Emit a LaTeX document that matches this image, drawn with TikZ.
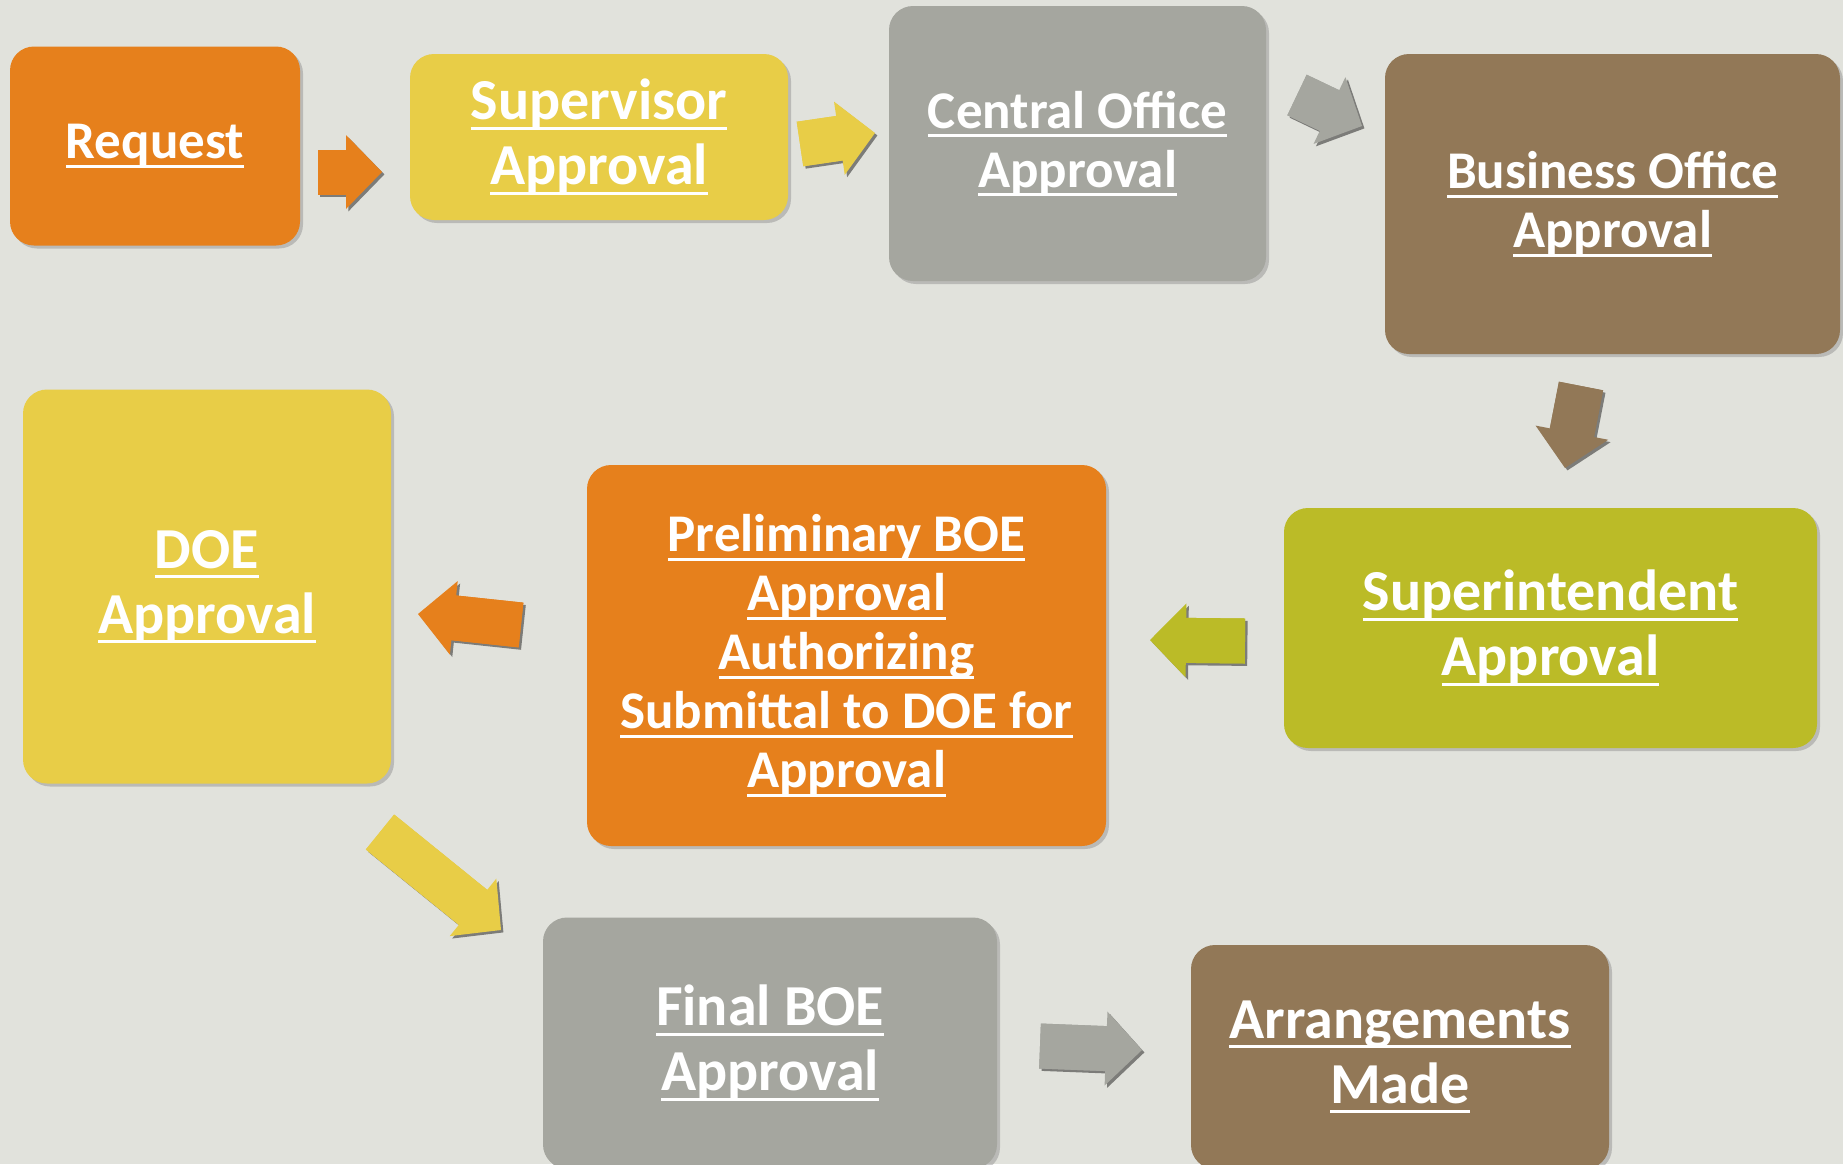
\documentclass[tikz,border=0pt]{standalone}
\usepackage{fontspec}
\setmainfont{Carlito}
\usetikzlibrary{arrows.meta}
\usetikzlibrary{shadows}

\definecolor{bgcol}{HTML}{E1E2DC}
\definecolor{boxorange}{HTML}{E6801C}
\definecolor{boxyellow}{HTML}{E8CD47}
\definecolor{boxgray}{HTML}{A5A69F}
\definecolor{boxbrown}{HTML}{927857}
\definecolor{boxolive}{HTML}{BBBB27}

% underlined line of a step label
\newlength{\uldepth}
\newcommand{\uln}[1]{\leavevmode\setbox0\hbox{#1}%
  \rlap{\rule[-\uldepth]{\wd0}{1.5pt}}\box0}

\begin{document}
\begin{tikzpicture}
[x=0.5pt,y=-0.5pt,%
  box/.style={rounded corners=12pt,fill=#1,text=white,align=center,inner sep=0pt,
    drop shadow={shadow xshift=1.5pt,shadow yshift=-1.5pt,opacity=0.4}},
  big/.style={font=\fontsize{29}{32.5}\selectfont\bfseries\setlength{\uldepth}{5pt}},
  small/.style={font=\fontsize{26.5}{29.5}\selectfont\bfseries\setlength{\uldepth}{4.5pt}},
  flow/.style={line width=22.5pt,-{Triangle[width=37pt,length=18pt,line width=0pt]},draw=#1},
  shaft/.style={line width=22.5pt,shorten >=14pt,draw=#1},
  flowshadow/.style={flow=bgcol!55!black,transform canvas={xshift=1.2pt,yshift=-1.2pt}}]
\useasboundingbox (0,0) rectangle (1843,1164);
\fill[bgcol] (0,0) rectangle (1843,1164);
\clip (0,0) rectangle (1843,1164);
%% ends of the block arrows
\coordinate (t1) at (318,172);   \coordinate (h1) at (382,172);
\coordinate (t2) at (800,144);   \coordinate (h2) at (875,133);
\coordinate (t3) at (1297,95);   \coordinate (h3) at (1362,126);
\coordinate (t4) at (1581,386);  \coordinate (h4) at (1565,468);
\coordinate (t5) at (1245,641);  \coordinate (h5) at (1150,640);
\coordinate (t6) at (521,625);   \coordinate (h6) at (418,614);
\coordinate (t7) at (380,832);   \coordinate (h7) at (501,930);
\coordinate (t8) at (1040,1046); \coordinate (h8) at (1142,1050);
\foreach \c/\t/\h in {boxorange/t1/h1,boxyellow/t2/h2,boxgray/t3/h3,boxbrown/t4/h4,
    boxolive/t5/h5,boxorange/t6/h6,boxyellow/t7/h7,boxgray/t8/h8}{
  \draw[flowshadow] (\t) -- (\h);
  \draw[flow=\c] (\t) -- (\h);
  \draw[shaft=\c] (\t) -- (\h);
}
%% steps
\node[box=boxorange,small,minimum width=145pt,minimum height=99.5pt] (req) at (155,146)
  {\uln{Request}};
\node[box=boxyellow,big,minimum width=189pt,minimum height=83pt] (sup) at (599,137)
  {\uln{Supervisor}\\\uln{Approval}};
\node[box=boxgray,small,minimum width=188.5pt,minimum height=137.5pt] (co) at (1077.5,143.5)
  {\uln{Central Office}\\\uln{Approval}};
\node[box=boxbrown,small,minimum width=227.5pt,minimum height=150pt] (bo) at (1612.5,204)
  {\uln{Business Office}\\\uln{Approval}};
\node[box=boxolive,big,minimum width=266.5pt,minimum height=120pt] (supt) at (1550.5,628)
  {\uln{Superintendent}\\\uln{Approval}};
\node[box=boxorange,small,minimum width=259.5pt,minimum height=190.5pt] (pre) at (846.5,655.5)
  {\uln{Preliminary BOE}\\\uln{Approval}\\\uln{Authorizing}\\
   \uln{Submittal to DOE for}\\\uln{Approval}};
\node[box=boxyellow,big,minimum width=184pt,minimum height=197pt] (doe) at (207,586.5)
  {\uln{DOE}\\\uln{Approval}};
\node[box=boxgray,big,minimum width=227pt,minimum height=125.5pt] (fin) at (770,1043)
  {\uln{Final BOE}\\\uln{Approval}};
\node[box=boxbrown,big,minimum width=209pt,minimum height=112pt] (arr) at (1400,1057)
  {\uln{Arrangements}\\\uln{Made}};
\end{tikzpicture}
\end{document}
